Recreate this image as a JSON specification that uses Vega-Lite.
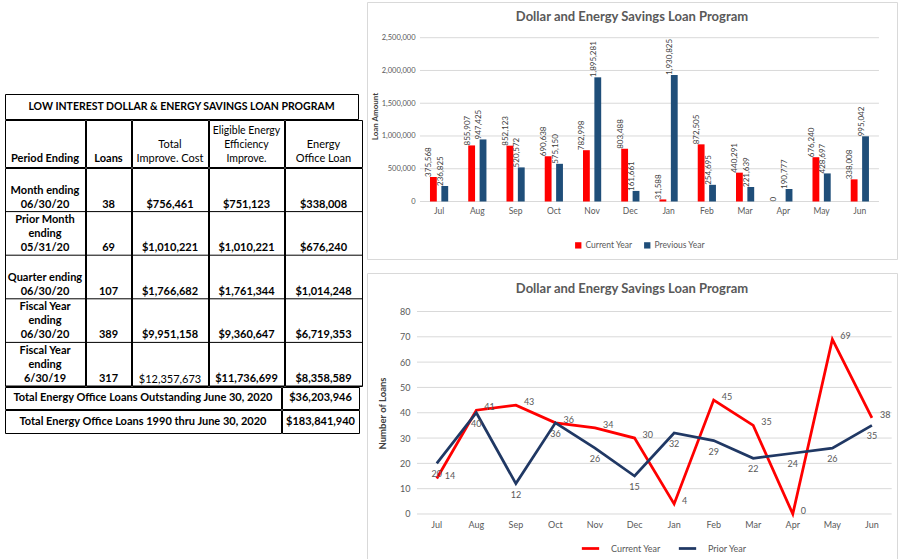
{
  "$schema": "https://vega.github.io/schema/vega-lite/v6.json",
  "padding": {"left": 4, "top": 1, "right": 1, "bottom": 2},
  "background": "white",
  "spacing": 3,
  "config": {
    "view": {"stroke": null},
    "font": "Lato",
    "concat": {"spacing": 0}
  },
  "datasets": {
    "amounts": [
      {"month": "Jul", "series": "Current Year", "amount": 375568},
      {"month": "Jul", "series": "Previous Year", "amount": 236825},
      {"month": "Aug", "series": "Current Year", "amount": 855907},
      {"month": "Aug", "series": "Previous Year", "amount": 947425},
      {"month": "Sep", "series": "Current Year", "amount": 852123},
      {"month": "Sep", "series": "Previous Year", "amount": 520572},
      {"month": "Oct", "series": "Current Year", "amount": 690638},
      {"month": "Oct", "series": "Previous Year", "amount": 575150},
      {"month": "Nov", "series": "Current Year", "amount": 782998},
      {"month": "Nov", "series": "Previous Year", "amount": 1895281},
      {"month": "Dec", "series": "Current Year", "amount": 803488},
      {"month": "Dec", "series": "Previous Year", "amount": 161661},
      {"month": "Jan", "series": "Current Year", "amount": 31588},
      {"month": "Jan", "series": "Previous Year", "amount": 1930825},
      {"month": "Feb", "series": "Current Year", "amount": 872505},
      {"month": "Feb", "series": "Previous Year", "amount": 254695},
      {"month": "Mar", "series": "Current Year", "amount": 440291},
      {"month": "Mar", "series": "Previous Year", "amount": 221639},
      {"month": "Apr", "series": "Current Year", "amount": 0},
      {"month": "Apr", "series": "Previous Year", "amount": 190777},
      {"month": "May", "series": "Current Year", "amount": 676240},
      {"month": "May", "series": "Previous Year", "amount": 428697},
      {"month": "Jun", "series": "Current Year", "amount": 338008},
      {"month": "Jun", "series": "Previous Year", "amount": 995042}
    ],
    "loanCounts": [
      {"month": "Jul", "series": "Current Year", "loans": 14},
      {"month": "Aug", "series": "Current Year", "loans": 41},
      {"month": "Sep", "series": "Current Year", "loans": 43},
      {"month": "Oct", "series": "Current Year", "loans": 36},
      {"month": "Nov", "series": "Current Year", "loans": 34},
      {"month": "Dec", "series": "Current Year", "loans": 30},
      {"month": "Jan", "series": "Current Year", "loans": 4},
      {"month": "Feb", "series": "Current Year", "loans": 45},
      {"month": "Mar", "series": "Current Year", "loans": 35},
      {"month": "Apr", "series": "Current Year", "loans": 0},
      {"month": "May", "series": "Current Year", "loans": 69},
      {"month": "Jun", "series": "Current Year", "loans": 38},
      {"month": "Jul", "series": "Prior Year", "loans": 20},
      {"month": "Aug", "series": "Prior Year", "loans": 40},
      {"month": "Sep", "series": "Prior Year", "loans": 12},
      {"month": "Oct", "series": "Prior Year", "loans": 36},
      {"month": "Nov", "series": "Prior Year", "loans": 26},
      {"month": "Dec", "series": "Prior Year", "loans": 15},
      {"month": "Jan", "series": "Prior Year", "loans": 32},
      {"month": "Feb", "series": "Prior Year", "loans": 29},
      {"month": "Mar", "series": "Prior Year", "loans": 22},
      {"month": "Apr", "series": "Prior Year", "loans": 24},
      {"month": "May", "series": "Prior Year", "loans": 26},
      {"month": "Jun", "series": "Prior Year", "loans": 35}
    ],
    "summary": [
      {"period": "Month  ending\n06/30/20", "loans": 38, "cost": 756461, "eligible": 751123, "office": 338008},
      {"period": "Prior Month\nending\n05/31/20", "loans": 69, "cost": 1010221, "eligible": 1010221, "office": 676240},
      {"period": "Quarter ending\n06/30/20", "loans": 107, "cost": 1766682, "eligible": 1761344, "office": 1014248},
      {"period": "Fiscal Year\nending\n06/30/20", "loans": 389, "cost": 9951158, "eligible": 9360647, "office": 6719353},
      {"period": "Fiscal Year\nending\n6/30/19", "loans": 317, "cost": 12357673, "eligible": 11736699, "office": 8358589}
    ],
    "totals": [
      {"item": "outstanding", "label": "Total Energy Office Loans  Outstanding  June 30, 2020", "value": 36203946},
      {"item": "cumulative", "label": "Total Energy Office Loans  1990 thru June 30, 2020", "value": 183841940}
    ]
  },
  "hconcat": [
    {
      "spacing": -1,
      "vconcat": [
        {
          "width": 353, "height": 92,
          "data": {"values": [{"t": ""}]},
          "mark": {"type": "text", "clip": true},
          "encoding": {"text": {"field": "t"}}
        },
        {
          "width": 353, "height": 25,
          "view": {"stroke": "#000000"},
          "data": {"values": [{"t": "LOW INTEREST DOLLAR & ENERGY SAVINGS LOAN PROGRAM"}]},
          "mark": {"type": "text", "clip": true, "fontWeight": "bold", "fontSize": 10.5, "baseline": "middle", "color": "#000000"},
          "encoding": {"text": {"field": "t"}}
        },
        {
          "spacing": -1,
          "hconcat": [
            {
              "width": 80, "height": 47, "view": {"stroke": "#000000"},
              "data": {"values": [{"h": "Period Ending"}]},
              "mark": {"type": "text", "clip": true, "fontWeight": "bold", "fontSize": 11, "baseline": "bottom", "dy": -3, "lineBreak": "\n", "lineHeight": 14.5, "color": "#000000"},
              "encoding": {"text": {"field": "h"}, "y": {"field": "h", "type": "nominal", "axis": null, "bandPosition": 1, "scale": {"type": "band", "paddingInner": 0, "paddingOuter": 0}}}
            },
            {
              "width": 45, "height": 47, "view": {"stroke": "#000000"},
              "data": {"values": [{"h": "Loans"}]},
              "mark": {"type": "text", "clip": true, "fontWeight": "bold", "fontSize": 11, "baseline": "bottom", "dy": -3, "lineBreak": "\n", "lineHeight": 14.5, "color": "#000000"},
              "encoding": {"text": {"field": "h"}, "y": {"field": "h", "type": "nominal", "axis": null, "bandPosition": 1, "scale": {"type": "band", "paddingInner": 0, "paddingOuter": 0}}}
            },
            {
              "width": 76, "height": 47, "view": {"stroke": "#000000"},
              "data": {"values": [{"h": "Total\nImprove. Cost"}]},
              "mark": {"type": "text", "clip": true, "fontWeight": "normal", "fontSize": 11, "baseline": "bottom", "dy": -17.5, "lineBreak": "\n", "lineHeight": 14.5, "color": "#000000"},
              "encoding": {"text": {"field": "h"}, "y": {"field": "h", "type": "nominal", "axis": null, "bandPosition": 1, "scale": {"type": "band", "paddingInner": 0, "paddingOuter": 0}}}
            },
            {
              "width": 75, "height": 47, "view": {"stroke": "#000000"},
              "data": {"values": [{"h": "Eligible Energy\nEfficiency\nImprove."}]},
              "mark": {"type": "text", "clip": true, "fontWeight": "normal", "fontSize": 10.5, "baseline": "bottom", "dy": -31, "lineBreak": "\n", "lineHeight": 14, "color": "#000000"},
              "encoding": {"text": {"field": "h"}, "y": {"field": "h", "type": "nominal", "axis": null, "bandPosition": 1, "scale": {"type": "band", "paddingInner": 0, "paddingOuter": 0}}}
            },
            {
              "width": 77, "height": 47, "view": {"stroke": "#000000"},
              "data": {"values": [{"h": "Energy\nOffice Loan"}]},
              "mark": {"type": "text", "clip": true, "fontWeight": "normal", "fontSize": 11, "baseline": "bottom", "dy": -17.5, "lineBreak": "\n", "lineHeight": 14.5, "color": "#000000"},
              "encoding": {"text": {"field": "h"}, "y": {"field": "h", "type": "nominal", "axis": null, "bandPosition": 1, "scale": {"type": "band", "paddingInner": 0, "paddingOuter": 0}}}
            }
          ]
        },
        {
          "spacing": -1,
          "hconcat": [
            {
              "width": 80, "height": 218, "view": {"stroke": "#000000"},
              "data": {"name": "summary"},
              "encoding": {"y": {"field": "period", "type": "nominal", "sort": null, "axis": null, "bandPosition": 1, "scale": {"type": "band", "paddingInner": 0, "paddingOuter": 0}}},
              "layer": [
                {"mark": {"type": "rule", "clip": true, "color": "#000000", "strokeWidth": 1}, "encoding": {}},
                {
                  "transform": [{"filter": "length(split(datum.period, '\\n')) == 2"}],
                  "mark": {"type": "text", "clip": true, "fontWeight": "bold", "fontSize": 11, "baseline": "bottom", "dy": -16, "lineBreak": "\n", "lineHeight": 14, "color": "#000000"},
                  "encoding": {"text": {"field": "period"}}
                },
                {
                  "transform": [{"filter": "length(split(datum.period, '\\n')) == 3"}],
                  "mark": {"type": "text", "clip": true, "fontWeight": "bold", "fontSize": 11, "baseline": "bottom", "dy": -30, "lineBreak": "\n", "lineHeight": 14, "color": "#000000"},
                  "encoding": {"text": {"field": "period"}}
                }
              ]
            },
            {
              "width": 45, "height": 218, "view": {"stroke": "#000000"},
              "data": {"name": "summary"},
              "encoding": {"y": {"field": "period", "type": "nominal", "sort": null, "axis": null, "bandPosition": 1, "scale": {"type": "band", "paddingInner": 0, "paddingOuter": 0}}},
              "layer": [
                {"mark": {"type": "rule", "clip": true, "color": "#000000", "strokeWidth": 1}, "encoding": {}},
                {"mark": {"type": "text", "clip": true, "fontWeight": "bold", "fontSize": 11, "baseline": "bottom", "dy": -2, "color": "#000000"}, "encoding": {"text": {"field": "loans", "type": "quantitative", "format": "d"}}}
              ]
            },
            {
              "width": 76, "height": 218, "view": {"stroke": "#000000"},
              "data": {"name": "summary"},
              "encoding": {"y": {"field": "period", "type": "nominal", "sort": null, "axis": null, "bandPosition": 1, "scale": {"type": "band", "paddingInner": 0, "paddingOuter": 0}}},
              "layer": [
                {"mark": {"type": "rule", "clip": true, "color": "#000000", "strokeWidth": 1}, "encoding": {}},
                {
                  "transform": [{"filter": "datum.cost < 10000000"}],
                  "mark": {"type": "text", "clip": true, "fontWeight": "bold", "fontSize": 11, "baseline": "bottom", "dy": -2, "color": "#000000"}, "encoding": {"text": {"field": "cost", "type": "quantitative", "format": "$,"}}},
                {
                  "transform": [{"filter": "datum.cost >= 10000000"}],
                  "mark": {"type": "text", "clip": true, "fontWeight": "normal", "fontSize": 11, "baseline": "bottom", "dy": -1, "color": "#000000"}, "encoding": {"text": {"field": "cost", "type": "quantitative", "format": "$,"}}}
              ]
            },
            {
              "width": 75, "height": 218, "view": {"stroke": "#000000"},
              "data": {"name": "summary"},
              "encoding": {"y": {"field": "period", "type": "nominal", "sort": null, "axis": null, "bandPosition": 1, "scale": {"type": "band", "paddingInner": 0, "paddingOuter": 0}}},
              "layer": [
                {"mark": {"type": "rule", "clip": true, "color": "#000000", "strokeWidth": 1}, "encoding": {}},
                {"mark": {"type": "text", "clip": true, "fontWeight": "bold", "fontSize": 11, "baseline": "bottom", "dy": -2, "color": "#000000"}, "encoding": {"text": {"field": "eligible", "type": "quantitative", "format": "$,"}}}
              ]
            },
            {
              "width": 77, "height": 218, "view": {"stroke": "#000000"},
              "data": {"name": "summary"},
              "encoding": {"y": {"field": "period", "type": "nominal", "sort": null, "axis": null, "bandPosition": 1, "scale": {"type": "band", "paddingInner": 0, "paddingOuter": 0}}},
              "layer": [
                {"mark": {"type": "rule", "clip": true, "color": "#000000", "strokeWidth": 1}, "encoding": {}},
                {"mark": {"type": "text", "clip": true, "fontWeight": "bold", "fontSize": 11, "baseline": "bottom", "dy": -2, "color": "#000000"}, "encoding": {"text": {"field": "office", "type": "quantitative", "format": "$,"}}}
              ]
            }
          ]
        },
        {
          "spacing": -1,
          "hconcat": [
            {
              "width": 276, "height": 22, "view": {"stroke": "#000000"},
              "data": {"name": "totals"},
              "transform": [{"filter": "datum.item == 'outstanding'"}],
              "mark": {"type": "text", "clip": true, "fontWeight": "bold", "fontSize": 11, "baseline": "middle", "color": "#000000"},
              "encoding": {"text": {"field": "label"}}
            },
            {
              "width": 77, "height": 22, "view": {"stroke": "#000000"},
              "data": {"name": "totals"},
              "transform": [{"filter": "datum.item == 'outstanding'"}],
              "mark": {"type": "text", "clip": true, "fontWeight": "bold", "fontSize": 11, "baseline": "middle", "color": "#000000"},
              "encoding": {"text": {"field": "value", "type": "quantitative", "format": "$,"}}
            }
          ]
        },
        {
          "spacing": -1,
          "hconcat": [
            {
              "width": 276, "height": 23, "view": {"stroke": "#000000"},
              "data": {"name": "totals"},
              "transform": [{"filter": "datum.item == 'cumulative'"}],
              "mark": {"type": "text", "clip": true, "fontWeight": "bold", "fontSize": 11, "baseline": "middle", "color": "#000000"},
              "encoding": {"text": {"field": "label"}}
            },
            {
              "width": 77, "height": 23, "view": {"stroke": "#000000"},
              "data": {"name": "totals"},
              "transform": [{"filter": "datum.item == 'cumulative'"}],
              "mark": {"type": "text", "clip": true, "fontWeight": "bold", "fontSize": 11, "baseline": "middle", "color": "#000000"},
              "encoding": {"text": {"field": "value", "type": "quantitative", "format": "$,"}}
            }
          ]
        }
      ]
    },
    {
      "spacing": 12,
      "resolve": {"scale": {"color": "independent"}, "legend": {"color": "independent"}},
      "vconcat": [
        {
          "width": 530, "height": 257,
          "view": {"stroke": "#d9d9d9", "strokeWidth": 1},
          "title": {"text": "Dollar and Energy Savings Loan Program", "offset": -22, "fontSize": 13, "fontWeight": "bold", "color": "#595959", "anchor": "middle"},
          "layer": [
            {
              "data": {"values": [{"amount": 0}, {"amount": 500000}, {"amount": 1000000}, {"amount": 1500000}, {"amount": 2000000}, {"amount": 2500000}]},
              "mark": {"type": "rule", "color": "#d9d9d9", "strokeWidth": 1},
              "encoding": {
                "y": {"field": "amount", "type": "quantitative", "scale": {"domain": [-877600, 3044900], "nice": false, "zero": false},
                  "axis": {"title": "Loan Amount", "values": [0, 500000, 1000000, 1500000, 2000000, 2500000], "labelExpr": "format(datum.value, ',')", "offset": -53, "domain": false, "ticks": false, "grid": false, "labelPadding": 5, "labelFontSize": 7.5, "labelColor": "#595959", "labelOverlap": false, "titleFontSize": 8, "titleFontWeight": "bold", "titleColor": "#404040", "titleX": -45, "titleY": 114, "titleAlign": "center", "titleBaseline": "middle", "titleAngle": 270}},
                "x": {"datum": "Jul", "type": "nominal", "bandPosition": 0,
                  "scale": {"domain": ["Jul", "Aug", "Sep", "Oct", "Nov", "Dec", "Jan", "Feb", "Mar", "Apr", "May", "Jun"], "paddingInner": 0, "paddingOuter": 0.928, "align": 0.746},
                  "axis": {"title": null, "offset": -57.5, "domain": false, "ticks": false, "grid": false, "labelPadding": 5, "labelFontSize": 8.5, "labelColor": "#595959", "labelAngle": 0}},
                "x2": {"datum": "Jun", "bandPosition": 1}
              }
            },
            {
              "data": {"name": "amounts"},
              "mark": {"type": "bar"},
              "encoding": {
                "x": {"field": "month", "type": "nominal",
                  "scale": {"domain": ["Jul", "Aug", "Sep", "Oct", "Nov", "Dec", "Jan", "Feb", "Mar", "Apr", "May", "Jun"], "paddingInner": 0, "paddingOuter": 0.928, "align": 0.746},
                  "axis": {"title": null, "offset": -57.5, "domain": false, "ticks": false, "grid": false, "labelPadding": 5, "labelFontSize": 8.5, "labelColor": "#595959", "labelAngle": 0}},
                "xOffset": {"field": "series", "type": "nominal", "scale": {"domain": ["Current Year", "Previous Year"], "paddingInner": 0.4, "paddingOuter": 0.88}},
                "y": {"field": "amount", "type": "quantitative", "scale": {"domain": [-877600, 3044900], "nice": false, "zero": false},
                  "axis": {"title": "Loan Amount", "values": [0, 500000, 1000000, 1500000, 2000000, 2500000], "labelExpr": "format(datum.value, ',')", "offset": -53, "domain": false, "ticks": false, "grid": false, "labelPadding": 5, "labelFontSize": 7.5, "labelColor": "#595959", "labelOverlap": false, "titleFontSize": 8, "titleFontWeight": "bold", "titleColor": "#404040", "titleX": -45, "titleY": 114, "titleAlign": "center", "titleBaseline": "middle", "titleAngle": 270}},
                "y2": {"datum": 0},
                "color": {"field": "series", "type": "nominal", "scale": {"domain": ["Current Year", "Previous Year"], "range": ["#ff0000", "#1f4e79"]},
                  "legend": {"orient": "none", "legendX": 207, "legendY": 239, "direction": "horizontal", "title": null, "symbolType": "square", "symbolSize": 40, "symbolStrokeWidth": 0, "labelFontSize": 8.5, "labelColor": "#595959", "labelOffset": 3, "columnPadding": 10}}
              }
            },
            {
              "data": {"name": "amounts"},
              "mark": {"type": "text", "angle": 270, "align": "left", "baseline": "middle", "dy": -4, "fontSize": 8, "color": "#404040"},
              "encoding": {
                "x": {"field": "month", "type": "nominal",
                  "scale": {"domain": ["Jul", "Aug", "Sep", "Oct", "Nov", "Dec", "Jan", "Feb", "Mar", "Apr", "May", "Jun"], "paddingInner": 0, "paddingOuter": 0.928, "align": 0.746},
                  "axis": {"title": null, "offset": -57.5, "domain": false, "ticks": false, "grid": false, "labelPadding": 5, "labelFontSize": 8.5, "labelColor": "#595959", "labelAngle": 0}},
                "xOffset": {"field": "series", "type": "nominal", "scale": {"domain": ["Current Year", "Previous Year"], "paddingInner": 0.4, "paddingOuter": 0.88}},
                "y": {"field": "amount", "type": "quantitative", "scale": {"domain": [-877600, 3044900], "nice": false, "zero": false},
                  "axis": {"title": "Loan Amount", "values": [0, 500000, 1000000, 1500000, 2000000, 2500000], "labelExpr": "format(datum.value, ',')", "offset": -53, "domain": false, "ticks": false, "grid": false, "labelPadding": 5, "labelFontSize": 7.5, "labelColor": "#595959", "labelOverlap": false, "titleFontSize": 8, "titleFontWeight": "bold", "titleColor": "#404040", "titleX": -45, "titleY": 114, "titleAlign": "center", "titleBaseline": "middle", "titleAngle": 270}},
                "text": {"field": "amount", "type": "quantitative", "format": ","}
              }
            }
          ]
        },
        {
          "width": 530, "height": 286,
          "view": {"stroke": "#d9d9d9", "strokeWidth": 1},
          "title": {"text": "Dollar and Energy Savings Loan Program", "offset": -23, "fontSize": 13, "fontWeight": "bold", "color": "#595959", "anchor": "middle"},
          "layer": [
            {
              "data": {"values": [{"loans": 0}, {"loans": 10}, {"loans": 20}, {"loans": 30}, {"loans": 40}, {"loans": 50}, {"loans": 60}, {"loans": 70}, {"loans": 80}]},
              "mark": {"type": "rule", "color": "#d9d9d9", "strokeWidth": 1},
              "encoding": {
                "y": {"field": "loans", "type": "quantitative", "scale": {"domain": [-17.78, 95.21], "nice": false, "zero": false},
                  "axis": {"title": "Number of Loans", "values": [0, 10, 20, 30, 40, 50, 60, 70, 80], "labelExpr": "format(datum.value, 'd')", "offset": -50, "domain": false, "ticks": false, "grid": false, "labelPadding": 7, "labelFontSize": 9, "labelColor": "#595959", "labelOverlap": false, "titleFontSize": 9.5, "titleFontWeight": "bold", "titleColor": "#404040", "titleX": -35, "titleY": 140, "titleAlign": "center", "titleBaseline": "middle", "titleAngle": 270}},
                "x": {"datum": "Jul", "type": "nominal", "bandPosition": 0,
                  "scale": {"domain": ["Jul", "Aug", "Sep", "Oct", "Nov", "Dec", "Jan", "Feb", "Mar", "Apr", "May", "Jun"], "paddingInner": 0, "paddingOuter": 0.699, "align": 0.904},
                  "axis": {"title": null, "offset": -45, "domain": false, "ticks": false, "grid": false, "labelPadding": 6, "labelFontSize": 9, "labelColor": "#595959", "labelAngle": 0}},
                "x2": {"datum": "Jun", "bandPosition": 1}
              }
            },
            {
              "data": {"name": "loanCounts"},
              "mark": {"type": "line", "strokeWidth": 2.75},
              "encoding": {
                "x": {"field": "month", "type": "nominal", "bandPosition": 0.5,
                  "scale": {"domain": ["Jul", "Aug", "Sep", "Oct", "Nov", "Dec", "Jan", "Feb", "Mar", "Apr", "May", "Jun"], "paddingInner": 0, "paddingOuter": 0.699, "align": 0.904},
                  "axis": {"title": null, "offset": -45, "domain": false, "ticks": false, "grid": false, "labelPadding": 6, "labelFontSize": 9, "labelColor": "#595959", "labelAngle": 0}},
                "y": {"field": "loans", "type": "quantitative", "scale": {"domain": [-17.78, 95.21], "nice": false, "zero": false},
                  "axis": {"title": "Number of Loans", "values": [0, 10, 20, 30, 40, 50, 60, 70, 80], "labelExpr": "format(datum.value, 'd')", "offset": -50, "domain": false, "ticks": false, "grid": false, "labelPadding": 7, "labelFontSize": 9, "labelColor": "#595959", "labelOverlap": false, "titleFontSize": 9.5, "titleFontWeight": "bold", "titleColor": "#404040", "titleX": -35, "titleY": 140, "titleAlign": "center", "titleBaseline": "middle", "titleAngle": 270}},
                "color": {"field": "series", "type": "nominal", "scale": {"domain": ["Current Year", "Prior Year"], "range": ["#ff0000", "#203864"]},
                  "legend": {"orient": "none", "legendX": 213, "legendY": 265, "direction": "horizontal", "title": null, "symbolType": "stroke", "symbolSize": 300, "symbolStrokeWidth": 2.75, "labelFontSize": 9, "labelColor": "#595959", "labelOffset": 10, "columnPadding": 12}}
              }
            },
            {
              "data": {"name": "loanCounts"},
              "transform": [{"filter": "datum.series == 'Current Year'"}],
              "mark": {"type": "text", "align": "left", "baseline": "middle", "dx": 8, "dy": -3, "fontSize": 9, "color": "#595959"},
              "encoding": {
                "x": {"field": "month", "type": "nominal", "bandPosition": 0.5,
                  "scale": {"domain": ["Jul", "Aug", "Sep", "Oct", "Nov", "Dec", "Jan", "Feb", "Mar", "Apr", "May", "Jun"], "paddingInner": 0, "paddingOuter": 0.699, "align": 0.904},
                  "axis": {"title": null, "offset": -45, "domain": false, "ticks": false, "grid": false, "labelPadding": 6, "labelFontSize": 9, "labelColor": "#595959", "labelAngle": 0}},
                "y": {"field": "loans", "type": "quantitative", "scale": {"domain": [-17.78, 95.21], "nice": false, "zero": false},
                  "axis": {"title": "Number of Loans", "values": [0, 10, 20, 30, 40, 50, 60, 70, 80], "labelExpr": "format(datum.value, 'd')", "offset": -50, "domain": false, "ticks": false, "grid": false, "labelPadding": 7, "labelFontSize": 9, "labelColor": "#595959", "labelOverlap": false, "titleFontSize": 9.5, "titleFontWeight": "bold", "titleColor": "#404040", "titleX": -35, "titleY": 140, "titleAlign": "center", "titleBaseline": "middle", "titleAngle": 270}},
                "text": {"field": "loans", "type": "quantitative"}
              }
            },
            {
              "data": {"name": "loanCounts"},
              "transform": [{"filter": "datum.series == 'Prior Year'"}],
              "mark": {"type": "text", "align": "center", "baseline": "top", "dy": 7, "fontSize": 9, "color": "#595959"},
              "encoding": {
                "x": {"field": "month", "type": "nominal", "bandPosition": 0.5,
                  "scale": {"domain": ["Jul", "Aug", "Sep", "Oct", "Nov", "Dec", "Jan", "Feb", "Mar", "Apr", "May", "Jun"], "paddingInner": 0, "paddingOuter": 0.699, "align": 0.904},
                  "axis": {"title": null, "offset": -45, "domain": false, "ticks": false, "grid": false, "labelPadding": 6, "labelFontSize": 9, "labelColor": "#595959", "labelAngle": 0}},
                "y": {"field": "loans", "type": "quantitative", "scale": {"domain": [-17.78, 95.21], "nice": false, "zero": false},
                  "axis": {"title": "Number of Loans", "values": [0, 10, 20, 30, 40, 50, 60, 70, 80], "labelExpr": "format(datum.value, 'd')", "offset": -50, "domain": false, "ticks": false, "grid": false, "labelPadding": 7, "labelFontSize": 9, "labelColor": "#595959", "labelOverlap": false, "titleFontSize": 9.5, "titleFontWeight": "bold", "titleColor": "#404040", "titleX": -35, "titleY": 140, "titleAlign": "center", "titleBaseline": "middle", "titleAngle": 270}},
                "text": {"field": "loans", "type": "quantitative"}
              }
            }
          ]
        }
      ]
    }
  ]
}
